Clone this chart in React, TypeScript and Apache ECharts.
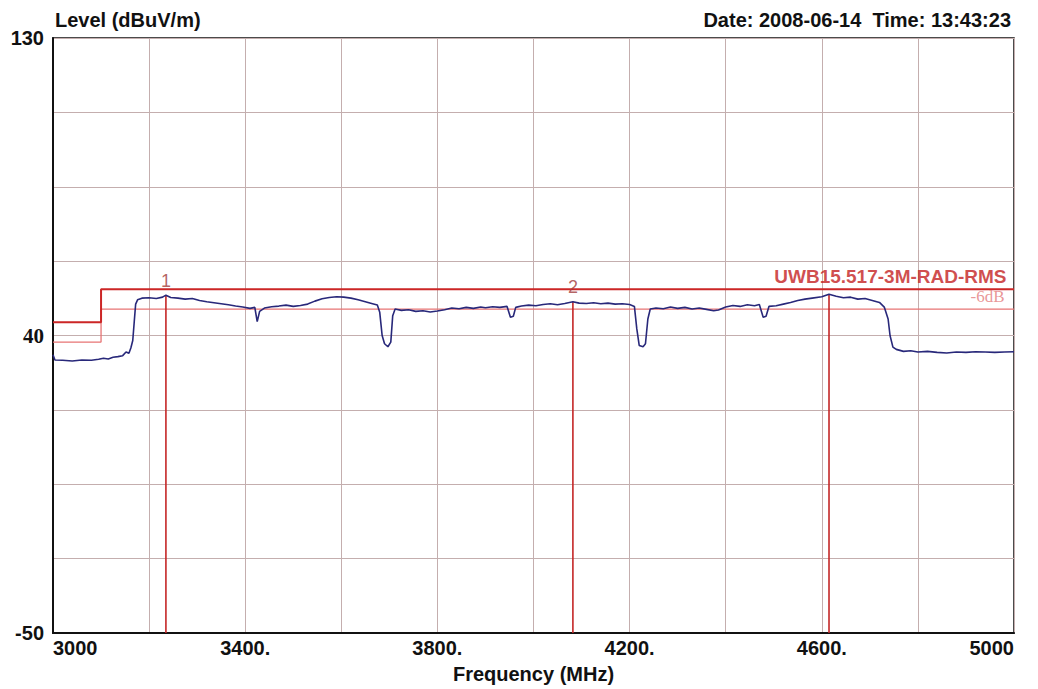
import React, { useEffect, useRef } from "react";
import * as echarts from "echarts";

// Axis definitions
const X_MIN = 3000;
const X_MAX = 5000;
const X_STEP = 200;
const Y_MIN = -50;
const Y_MAX = 130;
const Y_STEP = 22.5;
const yTickLabels = [130, 40, -50];

// Measured trace: [frequency MHz, level dBuV/m]
const trace: [number, number][] = [
  [3000, 34.2], [3004, 32.6], [3020, 32.5], [3040, 32.3], [3060, 32.6], [3080, 32.5],
  [3095, 32.8], [3105, 33.1], [3115, 32.9], [3125, 33.4], [3135, 33.6], [3145, 33.9],
  [3152, 35.0], [3158, 34.6], [3162, 36.2], [3166, 38.5], [3169, 44.0], [3172, 49.5],
  [3176, 50.8], [3185, 51.3], [3200, 51.4], [3215, 51.2], [3228, 51.6], [3235, 52.2],
  [3245, 51.5], [3260, 51.3], [3275, 51.0], [3290, 51.2], [3305, 50.6], [3320, 50.2],
  [3335, 49.9], [3350, 49.6], [3365, 49.3], [3380, 48.9], [3395, 48.6], [3410, 48.2],
  [3420, 48.5], [3425, 44.2], [3430, 47.3], [3440, 48.3], [3455, 48.7], [3470, 48.9],
  [3485, 49.2], [3500, 48.8], [3515, 49.1], [3530, 49.5], [3545, 50.4], [3560, 51.1],
  [3575, 51.5], [3590, 51.7], [3605, 51.6], [3620, 51.3], [3635, 50.8], [3650, 50.2],
  [3665, 49.6], [3675, 49.2], [3680, 47.0], [3685, 40.0], [3690, 37.5], [3697, 36.6],
  [3703, 38.0], [3707, 46.0], [3712, 48.0], [3725, 47.6], [3740, 47.8], [3755, 47.3],
  [3770, 47.5], [3785, 47.1], [3800, 47.4], [3815, 47.8], [3830, 48.3], [3845, 48.1],
  [3860, 48.5], [3875, 48.2], [3890, 48.6], [3900, 48.4], [3915, 48.7], [3930, 48.5],
  [3945, 48.8], [3952, 45.5], [3958, 45.8], [3963, 48.5], [3975, 48.9], [3990, 49.2],
  [4005, 49.0], [4020, 49.4], [4035, 49.6], [4050, 49.3], [4065, 49.7], [4082, 50.2],
  [4095, 49.8], [4110, 49.7], [4125, 49.9], [4140, 49.6], [4155, 49.8], [4170, 49.5],
  [4185, 49.6], [4200, 49.4], [4210, 48.8], [4215, 42.0], [4220, 37.0], [4228, 36.6],
  [4233, 37.5], [4238, 45.0], [4243, 48.0], [4255, 48.3], [4270, 48.1], [4285, 48.6],
  [4300, 48.2], [4315, 48.5], [4330, 48.0], [4345, 48.3], [4360, 47.9], [4375, 47.5],
  [4385, 47.7], [4400, 48.6], [4415, 49.1], [4430, 48.8], [4445, 49.3], [4460, 49.0],
  [4470, 49.4], [4478, 45.5], [4484, 45.8], [4490, 48.8], [4505, 49.0], [4520, 49.5],
  [4535, 50.0], [4550, 50.6], [4565, 51.0], [4580, 51.3], [4600, 51.7], [4615, 52.5],
  [4630, 51.9], [4645, 51.4], [4660, 51.6], [4675, 51.0], [4690, 51.2], [4705, 50.6],
  [4720, 50.0], [4730, 48.6], [4738, 45.0], [4742, 40.0], [4748, 36.5], [4755, 35.8],
  [4770, 35.2], [4785, 35.4], [4800, 35.0], [4820, 35.2], [4840, 34.9], [4860, 34.7],
  [4880, 35.0], [4900, 34.9], [4920, 35.1], [4940, 35.0], [4960, 34.9], [4980, 35.0],
  [5000, 35.1],
];

// Limit line UWB15.517-3M-RAD-RMS and its -6 dB line
const limitFreq = [3000, 3100, 3100, 5000];
const limitLevel = [44, 44, 54, 54];
const limitMinus6Level = [38, 38, 48, 48];
const limitName = "UWB15.517-3M-RAD-RMS";
const minus6Name = "-6dB";

// Markers
const markerFreq = [3235, 4082, 4615];
const markerLevel = [52.2, 50.2, 52.5];
const markerLabel = ["1", "2", ""];

const titleLeft = "Level (dBuV/m)";
const titleRight = "Date: 2008-06-14  Time: 13:43:23";
const xName = "Frequency (MHz)";

const FONT = "'Liberation Sans', Arial, sans-serif";

export default function App() {
  const ref = useRef<HTMLDivElement>(null);
  useEffect(() => {
    if (!ref.current) return;
    const chart = echarts.init(ref.current, null, { renderer: "svg" });
    const y = (v: number) => v - Y_MIN;

    const markerSeries = markerFreq.map((f, i) => ({
      type: "line",
      data: [
        [f, y(markerLevel[i])],
        [f, y(Y_MIN)],
      ],
      symbol: "none",
      lineStyle: { color: "#c42626", width: 1.6 },
      z: 3,
      silent: true,
    }));

    chart.setOption({
      animation: false,
      backgroundColor: "#ffffff",
      title: [
        {
          text: titleLeft,
          left: 50,
          top: 5,
          textStyle: { fontFamily: FONT, fontWeight: "bold", fontSize: 20, color: "#111" },
        },
        {
          text: titleRight,
          right: 22,
          top: 5,
          textStyle: { fontFamily: FONT, fontWeight: "bold", fontSize: 20, color: "#111" },
        },
      ],
      grid: {
        left: 53,
        right: 24,
        top: 38,
        bottom: 54,
        show: true,
        borderColor: "#111",
        borderWidth: 1.5,
        backgroundColor: "#fff",
      },
      xAxis: {
        type: "value",
        min: X_MIN,
        max: X_MAX,
        interval: X_STEP,
        name: xName,
        nameLocation: "middle",
        nameGap: 31,
        nameTextStyle: { fontFamily: FONT, fontWeight: "bold", fontSize: 20, color: "#111" },
        axisLine: { show: true, lineStyle: { color: "#111", width: 2 } },
        axisTick: { show: false },
        splitLine: { show: true, lineStyle: { color: "#c4aeae", width: 1 } },
        axisLabel: {
          margin: 5,
          fontFamily: FONT,
          fontWeight: "bold",
          fontSize: 20,
          color: "#111",
          showMinLabel: true,
          showMaxLabel: true,
          alignMinLabel: "left",
          alignMaxLabel: "right",
          formatter: (v: number) => {
            if (v === X_MIN || v === X_MAX) return String(v);
            if ((v - X_MIN) % 400 === 0) return v + ".";
            return "";
          },
        },
      },
      yAxis: {
        type: "value",
        min: 0,
        max: Y_MAX - Y_MIN,
        interval: Y_STEP,
        axisLine: { show: true, lineStyle: { color: "#111", width: 2 } },
        axisTick: { show: false },
        splitLine: { show: true, lineStyle: { color: "#c4aeae", width: 1 } },
        axisLabel: {
          margin: 9,
          fontFamily: FONT,
          fontWeight: "bold",
          fontSize: 20,
          color: "#111",
          showMinLabel: true,
          showMaxLabel: true,
          formatter: (v: number) => {
            const real = Math.round((v + Y_MIN) * 10) / 10;
            if (!yTickLabels.includes(real)) return "";
            return real === 40 ? "{serif|40}" : String(real);
          },
          rich: {
            serif: {
              fontFamily: "'Liberation Serif', 'Times New Roman', serif",
              fontWeight: "bold",
              fontSize: 21,
              color: "#111",
            },
          },
        },
      },
      series: [
        {
          type: "line",
          data: limitFreq.map((f, i) => [f, y(limitMinus6Level[i])]),
          symbol: "none",
          lineStyle: { color: "#e77474", width: 1.3 },
          z: 2,
          silent: true,
        },
        {
          type: "line",
          data: limitFreq.map((f, i) => [f, y(limitLevel[i])]),
          symbol: "none",
          lineStyle: { color: "#cc2626", width: 2 },
          z: 2,
          silent: true,
        },
        ...markerSeries,
        {
          type: "line",
          data: trace.map(([f, v]) => [f, y(v)]),
          symbol: "none",
          lineStyle: { color: "#28287a", width: 1.6 },
          z: 4,
          silent: true,
        },
        {
          type: "scatter",
          data: markerFreq.map((f, i) => ({ value: [f, y(markerLevel[i])], name: markerLabel[i] })),
          symbolSize: 1,
          itemStyle: { color: "rgba(0,0,0,0)" },
          z: 5,
          silent: true,
          label: {
            show: true,
            position: "top",
            distance: 5,
            formatter: (p: any) => p.name,
            fontFamily: FONT,
            fontSize: 18,
            color: "#a23a3a",
          },
        },
        {
          type: "scatter",
          data: [
            { value: [X_MAX, y(limitMinus6Level[3])], name: minus6Name },
          ],
          symbolSize: 1,
          itemStyle: { color: "rgba(0,0,0,0)" },
          z: 6,
          silent: true,
          label: {
            show: true,
            position: "left",
            distance: 9,
            offset: [0, -13],
            formatter: (p: any) => p.name,
            fontFamily: "'Liberation Serif', 'Times New Roman', serif",
            fontSize: 17,
            color: "#e47c7c",
          },
        },
        {
          type: "scatter",
          data: [{ value: [X_MAX, y(limitLevel[3])], name: limitName }],
          symbolSize: 1,
          itemStyle: { color: "rgba(0,0,0,0)" },
          z: 7,
          silent: true,
          label: {
            show: true,
            position: "left",
            distance: 7,
            offset: [0, -13],
            formatter: (p: any) => p.name,
            fontFamily: FONT,
            fontWeight: "bold",
            fontSize: 19,
            color: "#c41e1e",
          },
        },
      ],
    });
    return () => chart.dispose();
  }, []);
  return (
    <div
      ref={ref}
      style={{ position: "fixed", left: 0, top: 0, width: 1038, height: 689, background: "#fff" }}
    />
  );
}
